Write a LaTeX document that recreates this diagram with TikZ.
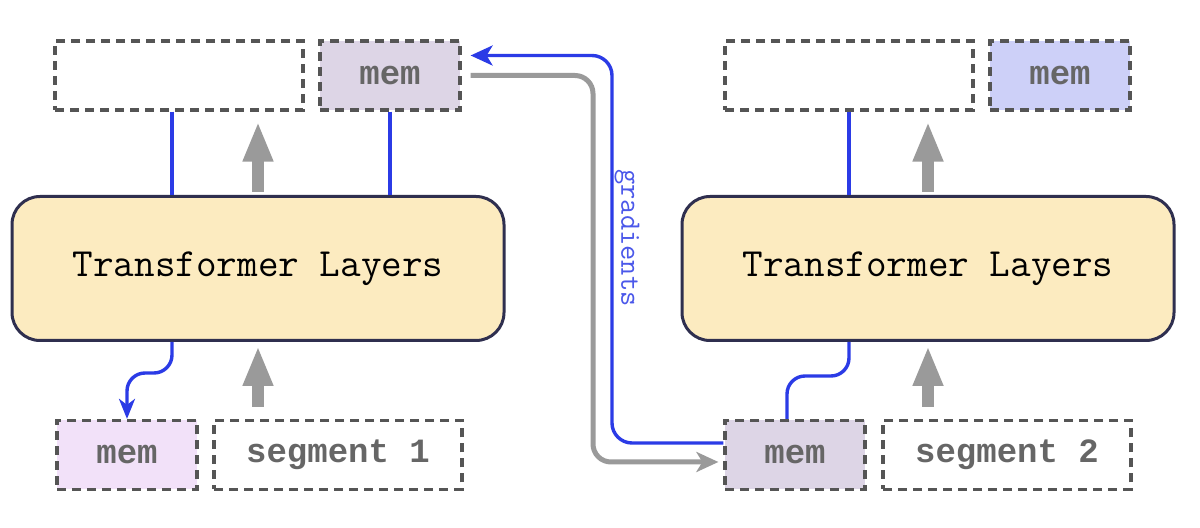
\documentclass[tikz,border=0pt]{standalone}
\usepackage{fontspec}
\newfontfamily\boldmono{Liberation Mono}
\usetikzlibrary{arrows.meta}
\definecolor{layerfill}{HTML}{FCEBC0}
\definecolor{layerdraw}{HTML}{2F2F4F}
\definecolor{boxdraw}{HTML}{555555}
\definecolor{memtext}{HTML}{666666}
\definecolor{memgray}{HTML}{DDD5E6}
\definecolor{mempink}{HTML}{F2E1F9}
\definecolor{memblue}{HTML}{CDD0F8}
\definecolor{gradblue}{HTML}{2B3BE6}
\definecolor{flowgray}{HTML}{9A9A9A}
\begin{document}
\begin{tikzpicture}[x=0.5pt,y=-0.5pt]
    \tikzstyle{layer}=[fill=layerfill,draw=layerdraw,line width=1.5pt,rounded corners=14pt,minimum width=246pt,minimum height=72pt,font=\ttfamily\fontsize{20}{22}\selectfont]
    \tikzstyle{seg}=[draw=boxdraw,line width=1.6pt,dash pattern=on 4.5pt off 3pt,minimum height=34.5pt,inner sep=0pt,text=memtext,font=\boldmono\bfseries\fontsize{17}{20}\selectfont]
    \tikzstyle{wide}=[seg,minimum width=124pt]
    \tikzstyle{mem}=[seg,minimum width=70pt]
    \tikzstyle{link}=[draw=gradblue,line width=1.7pt]
    \tikzstyle{up}=[draw=flowgray,line width=6pt,-{Triangle[length=20pt,width=14pt]}]
    \tikzstyle{carry}=[draw=flowgray,line width=2.5pt,rounded corners=9pt,-{Stealth[length=11pt,width=10pt,inset=3pt]}]

    \def\lx{258}
    \def\rx{928}
    \def\ty{75.5}
    \def\my{268.5}
    \def\by{455}

    \useasboundingbox[fill=white] (0,0) rectangle (1200,528);

    % segment 1
    \node[layer] (L1) at (\lx,\my) {Transformer Layers};
    \node[wide] (h1) at (\lx-79,\ty) {};
    \node[mem,fill=memgray] (m1) at (\lx+132,\ty) {mem};
    \node[mem,fill=mempink] (p1) at (\lx-131,\by) {mem};
    \node[wide] (s1) at (\lx+80,\by) {segment 1};

    \draw [link] ([xshift=-3.5pt]h1.south) -- ([xshift=-3.5pt]h1.south |- L1.north);
    \draw [link] (m1.south) -- (m1.south |- L1.north);
    \draw [up] ([yshift=1.5pt]L1.north) -- ([yshift=-5pt]L1.north |- h1.south);
    \draw [up] ([yshift=6pt]L1.south |- s1.north) -- ([yshift=-2pt]L1.south);
    \draw [link,rounded corners=9pt,-{Stealth[length=10pt,width=8pt,inset=3pt]}] ([xshift=-3.5pt]L1.south -| h1.south) -- ++(0,31) -| (p1.north);

    % segment 2
    \node[layer] (L2) at (\rx,\my) {Transformer Layers};
    \node[wide] (h2) at (\rx-79,\ty) {};
    \node[mem,fill=memblue] (m2) at (\rx+132,\ty) {mem};
    \node[mem,fill=memgray] (q2) at (\rx-133,\by) {mem};
    \node[wide] (s2) at (\rx+79,\by) {segment 2};

    \draw [link] (h2.south) -- (h2.south |- L2.north);
    \draw [up] ([yshift=1.5pt]L2.north) -- ([yshift=-5pt]L2.north |- h2.south);
    \draw [up] ([yshift=6pt]L2.south |- s2.north) -- ([yshift=-2pt]L2.south);
    \draw [link,rounded corners=9pt] (L2.south -| h2.south) -- ++(0,34) -| ([xshift=-4pt]q2.north);

    % between the segments
    \coordinate (gx) at (612,0);
    \coordinate (cx) at (593,0);
    \coordinate (gin) at ([xshift=4.5pt,yshift=10pt]m1.east);
    \coordinate (cout) at ([xshift=-2.5pt,yshift=-3.5pt]q2.west);

    \draw [link,rounded corners=10pt,-{Stealth[length=11pt,width=10pt,inset=3pt]}] ([yshift=6pt]q2.west) -| (gx |- gin) -- (gin);
    \draw [carry] ([xshift=4.5pt]m1.east) -| (cx |- cout) -- (cout);
    \node[rotate=-90,text=gradblue!85,font=\ttfamily\fontsize{14.8}{16}\selectfont] (grad) at (627,238) {gradients};

\end{tikzpicture}
\end{document}
